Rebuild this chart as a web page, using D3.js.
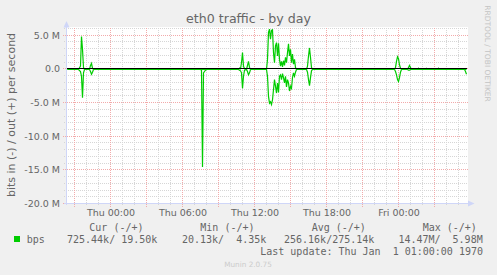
<!DOCTYPE html>
<html>
<head>
<meta charset="utf-8">
<script src="https://cdn.jsdelivr.net/npm/d3@7"></script>
<style>
  body { margin: 0; background: #f0f0f0; }
  svg { display: block; }
  text { font-family: "DejaVu Sans", sans-serif; fill: #666; }
  .mono { font-family: "DejaVu Sans Mono", monospace; white-space: pre; }
</style>
</head>
<body>
<div id="chart"></div>
<script>
// 5 minute samples, minutes relative to Thu 00:00
const sampleMinutes = [-215, -160, -150, -145, -140, -135, -130, -105, -100, -95, -90, -85,
  450, 455, 460, 465, 470, 475, 480,
  640, 645, 650, 655, 660, 665, 670, 680, 685, 690, 695, 700,
  780, 785, 790, 795, 800, 805, 810, 815, 820, 825, 830, 835, 840, 845, 850, 855, 860,
  865, 870, 875, 880, 885, 890, 895, 900, 905, 910, 915, 920, 925, 930,
  980, 985, 990, 995, 1000, 1005, 1010,
  1420, 1425, 1430, 1435, 1440, 1445, 1450, 1455,
  1485, 1490, 1495, 1500, 1505, 1535, 1540, 1545, 1575, 1580, 1585,
  1635, 1640, 1645, 1690, 1695, 1700, 1770, 1775, 1780];
// out (+) in Mbit/s
const outMbps = [0, 0, 0.5, 4.9, 3.0, 0.3, 0, 0, 0.6, 0.9, 0.2, 0,
  0, 0, 0, 0, 0, 0, 0,
  0, 0.2, 0.1, 1.0, 2.5, 0.5, 0.1, 0, 0.6, 1.2, 0.3, 0,
  0, 1.5, 5.5, 6.0, 4.5, 5.8, 5.9, 2.5, 1.0, 3.5, 4.0, 2.0, 3.9, 1.5, 0.5, 1.2, 0.4,
  1.3, 0.6, 1.8, 1.0, 2.5, 3.8, 2.0, 3.0, 1.0, 2.3, 0.8, 1.5, 0.3, 0,
  0, 0.5, 2.0, 3.2, 1.8, 0.3, 0,
  0, 0.3, 1.2, 1.9, 1.6, 0.7, 0.2, 0,
  0, 0.3, 0.6, 0.3, 0, 0, 0.2, 0, 0, 0.15, 0,
  0, 0.2, 0, 0, 0.1, 0, 0, 0, 0];
// in (-) in Mbit/s
const inMbps = [0, 0, 0.3, 1.0, 4.2, 0.5, 0, 0, 0.3, 0.7, 0.4, 0,
  0, 0.1, 14.5, 0.5, 0.3, 0.1, 0,
  0, 0.1, 0.2, 0.5, 2.8, 1.0, 0.1, 0, 0.3, 0.8, 0.5, 0,
  0, 1.0, 4.0, 5.0, 4.8, 5.2, 4.5, 3.0, 1.5, 2.5, 3.5, 2.0, 3.4, 1.0, 0.8, 1.5, 0.6,
  1.2, 2.0, 1.0, 2.6, 1.5, 2.0, 3.2, 2.5, 2.8, 1.2, 0.5, 1.0, 0.4, 0,
  0, 0.4, 1.5, 2.4, 1.2, 0.2, 0,
  0, 0.3, 0.8, 1.5, 1.8, 1.2, 0.4, 0,
  0, 0.1, 0.1, 0, 0, 0, 0, 0, 0, 0, 0,
  0, 0, 0, 0, 0, 0, 0, 0.3, 0.7];

const yTicks = [5, 0, -5, -10, -15, -20];
const yTickLabels = ["5.0 M", "0.0", "-5.0 M", "-10.0 M", "-15.0 M", "-20.0 M"];
const xTicks = [0, 360, 720, 1080, 1440];
const xTickLabels = ["Thu 00:00", "Thu 06:00", "Thu 12:00", "Thu 18:00", "Fri 00:00"];

const legendHeaders = ["Cur (-/+)", "Min (-/+)", "Avg (-/+)", "Max (-/+)"];
const legendIn = ["725.44k", "20.13k", "256.16k", "14.47M"];
const legendOut = ["19.50k", "4.35k", "275.14k", "5.98M"];
const lastUpdate = "Last update: Thu Jan  1 01:00:00 1970";

const width = 497, height = 275;
const crisp = v => Math.floor(v) + 0.5;

const svg = d3.select("#chart").append("svg")
    .attr("width", width)
    .attr("height", height);

svg.append("rect").attr("width", width).attr("height", height).attr("fill", "#f0f0f0");

const x = d3.scaleLinear().domain([-217.5, 1782.5]).range([67, 467]);
const y = d3.scaleLinear().domain([-20, 6]).range([203.5, 28.5]);

// canvas
svg.append("rect")
    .attr("x", 66).attr("y", 27)
    .attr("width", 402).attr("height", 177)
    .attr("fill", "#fff");

// grid
const grid = svg.append("g").attr("stroke-dasharray", "1,1").attr("stroke-width", 1);
const minorX = d3.range(-180, 1783, 60).filter(m => m % 180 !== 0);
const majorX = d3.range(-180, 1783, 180);
const minorY = d3.range(-20, 7, 1).filter(v => v % 5 !== 0);
const majorY = d3.range(-20, 7, 5);

grid.selectAll(".vmin").data(minorX).enter().append("line")
    .attr("x1", d => crisp(x(d))).attr("x2", d => crisp(x(d)))
    .attr("y1", 28).attr("y2", 205)
    .attr("stroke", "#d6d6d6");
grid.selectAll(".hmin").data(minorY).enter().append("line")
    .attr("x1", 64).attr("x2", 468)
    .attr("y1", d => crisp(y(d))).attr("y2", d => crisp(y(d)))
    .attr("stroke", "#d6d6d6");
grid.selectAll(".vmaj").data(majorX).enter().append("line")
    .attr("x1", d => crisp(x(d))).attr("x2", d => crisp(x(d)))
    .attr("y1", 28).attr("y2", 207)
    .attr("stroke", "#f2aaaa");
grid.selectAll(".hmaj").data(majorY).enter().append("line")
    .attr("x1", 63).attr("x2", 468)
    .attr("y1", d => crisp(y(d))).attr("y2", d => crisp(y(d)))
    .attr("stroke", "#f2aaaa");

// traffic lines
const line = d3.line().x(d => x(d.m)).y(d => y(d.v));
const outPoints = sampleMinutes.map((m, i) => ({m: m, v: outMbps[i]}));
const inPoints = sampleMinutes.map((m, i) => ({m: m, v: -inMbps[i]}));

[inPoints, outPoints].forEach(pts => {
    svg.append("path")
        .datum(pts)
        .attr("fill", "none")
        .attr("stroke", "#00cc00")
        .attr("stroke-width", 1.2)
        .attr("transform", "translate(0,0.6)")
        .attr("d", line);
});

// zero rule
svg.append("line")
    .attr("x1", 67).attr("x2", 467)
    .attr("y1", Math.round(y(0)) - 0.5).attr("y2", Math.round(y(0)) - 0.5)
    .attr("stroke", "#000");

// axis lines + arrows
svg.append("line").attr("x1", 66.5).attr("x2", 66.5).attr("y1", 205).attr("y2", 24)
    .attr("stroke", "#cfd6f8");
svg.append("line").attr("x1", 64).attr("x2", 470).attr("y1", 203.5).attr("y2", 203.5)
    .attr("stroke", "#cfd6f8");
svg.append("path").attr("d", "M63.5,27.5L69.5,27.5L66.5,21Z").attr("fill", "#cfd6f8");
svg.append("path").attr("d", "M468,200.5L468,206.5L474.5,203.5Z").attr("fill", "#cfd6f8");

// tick labels
const yAxis = svg.append("g")
    .attr("transform", "translate(66,0)")
    .call(d3.axisLeft(y).tickValues(yTicks).tickFormat((d, i) => yTickLabels[i]).tickSize(0).tickPadding(6));
const xAxis = svg.append("g")
    .attr("transform", "translate(0,203.5)")
    .call(d3.axisBottom(x).tickValues(xTicks).tickFormat((d, i) => xTickLabels[i]).tickSize(0).tickPadding(6));
[yAxis, xAxis].forEach(a => {
    a.select(".domain").remove();
    a.selectAll("text").attr("font-family", "DejaVu Sans").attr("font-size", 9.5).attr("fill", "#666");
});

// title and axis label
svg.append("text")
    .attr("x", 248.5).attr("y", 23)
    .attr("text-anchor", "middle")
    .attr("font-size", 12.6)
    .text("eth0 traffic - by day");

svg.append("text")
    .attr("transform", "translate(15,115) rotate(-90)")
    .attr("text-anchor", "middle")
    .attr("font-size", 11)
    .text("bits in (-) / out (+) per second");

svg.append("text")
    .attr("transform", "translate(484.5,53.5) rotate(90)")
    .attr("text-anchor", "middle")
    .attr("font-size", 7.5)
    .style("fill", "#c4c4c4")
    .text("RRDTOOL / TOBI OETIKER");

// legend
const headerX = [89.3, 200.3, 311.7, 422.7];
const valueEnd = [157.3, 266.3, 374.3, 482.7];

svg.selectAll(".lhead").data(legendHeaders).enter().append("text")
    .attr("class", "mono")
    .attr("x", (d, i) => headerX[i]).attr("y", 231)
    .attr("font-size", 10)
    .text(d => d);

svg.append("rect").attr("x", 14).attr("y", 236).attr("width", 6).attr("height", 6).attr("fill", "#00cc00");
svg.append("text").attr("class", "mono").attr("x", 26.7).attr("y", 242.5).attr("font-size", 10).text("bps");

svg.selectAll(".lval").data(legendIn).enter().append("text")
    .attr("class", "mono")
    .attr("x", (d, i) => valueEnd[i]).attr("y", 242.5)
    .attr("text-anchor", "end")
    .attr("font-size", 10)
    .text((d, i) => d + "/" + legendOut[i].padStart(7));

svg.append("text").attr("class", "mono")
    .attr("x", 483).attr("y", 254.5)
    .attr("text-anchor", "end")
    .attr("font-size", 10)
    .text(lastUpdate);

svg.append("text")
    .attr("x", 248).attr("y", 267)
    .attr("text-anchor", "middle")
    .attr("font-size", 7.3)
    .style("fill", "#cccccc")
    .text("Munin 2.0.75");
</script>
</body>
</html>
